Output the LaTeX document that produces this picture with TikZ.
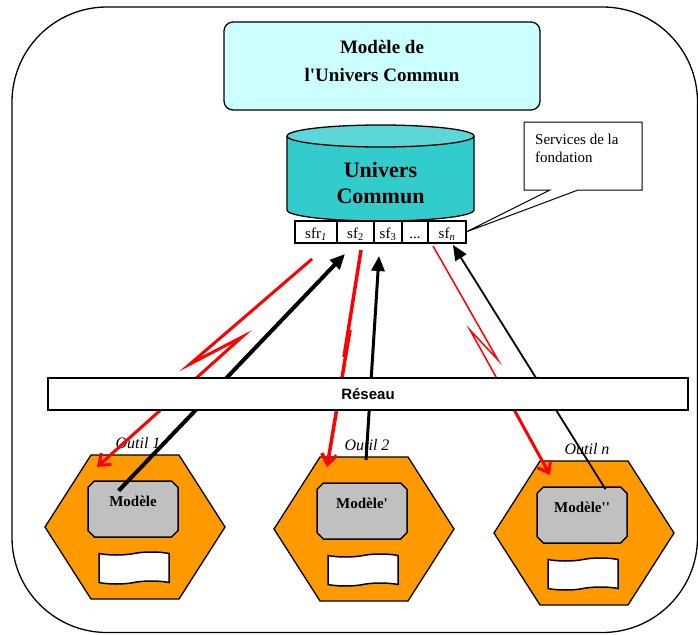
\documentclass[tikz,border=0pt]{standalone}
\usepackage{fontspec}
\setmainfont{Liberation Serif}[Ligatures=TeXOff]
\newfontfamily\reseaufont{Liberation Sans}
\usetikzlibrary{positioning,arrows.meta,calc,backgrounds,shapes.misc,shapes.symbols}
\definecolor{cyanpale}{RGB}{204,255,255}
\definecolor{tealhaut}{RGB}{92,214,214}
\definecolor{tealcorps}{RGB}{51,204,204}
\definecolor{orangeoutil}{RGB}{255,153,0}
\definecolor{grismodele}{RGB}{192,192,192}

\tikzset{
  cadre/.style={line width=1.3pt, rounded corners=95pt},
  boitemodele/.style={draw, fill=cyanpale, line width=1.3pt, rounded corners=9pt,
    minimum width=316pt, minimum height=88pt},
  texteuc/.style={align=center, font=\bfseries\fontsize{19}{28}\selectfont},
  cylindre/.style={draw, line width=1.3pt},
  univers/.style={align=center, font=\bfseries\fontsize{22}{25}\selectfont},
  sfcase/.style={draw, fill=white, line width=2.4pt, minimum height=22pt, inner sep=0pt,
    outer sep=0pt, text height=14pt, text depth=2pt, font=\fontsize{15}{15}\selectfont},
  bulle/.style={align=left, inner sep=0pt, font=\fontsize{15}{18}\selectfont},
  reseaubarre/.style={draw, fill=white, line width=1.5pt, minimum width=640pt,
    minimum height=32pt, font=\reseaufont\bfseries\fontsize{15}{15}\selectfont},
  hexoutil/.style={draw, fill=orangeoutil, line width=1.3pt},
  modele/.style={chamfered rectangle, chamfered rectangle xsep=4pt, draw,
    fill=grismodele, line width=1.5pt, minimum width=90pt, minimum height=56pt},
  modtexte/.style={font=\bfseries\fontsize{15}{15}\selectfont},
  docoutil/.style={tape, draw, fill=white, line width=1.5pt, minimum width=70pt,
    minimum height=32pt, tape bend height=3pt},
  nomoutil/.style={font=\itshape\fontsize{16}{16}\selectfont},
  rouge/.style={draw=red, line width=#1, -{Straight Barb[length=10pt,width=15pt]}},
  rougefin/.style={draw=red, line width=1.5pt},
  noir/.style={draw=black, line width=#1, -{Triangle[length=15pt,width=13pt]}},
}

\begin{document}
\begin{tikzpicture}[x=1pt,y=-1pt]
  \useasboundingbox (0,0) rectangle (698,634);
  \draw[cadre] (12,7) rectangle (697.5,632.5);

  \node[boitemodele] (modeleuc) at (382,66) {};
  \node[texteuc] at ([yshift=5pt]modeleuc.center) {Modèle de\\l'Univers Commun};

  \fill[tealcorps] (287,136) -- (287,210)
    arc[start angle=180, end angle=0, x radius=93.5, y radius=11] -- (474,136) -- cycle;
  \draw[cylindre] (287,136) -- (287,210)
    arc[start angle=180, end angle=0, x radius=93.5, y radius=11] -- (474,136);
  \draw[cylindre, fill=tealhaut] (380.5,136) ellipse[x radius=93.5, y radius=11];
  \node[univers] (univers) at (380.5,183) {Univers\\Commun};

  \node[sfcase, minimum width=42pt, anchor=west] (sfr1) at (295,232) {sfr\textsubscript{\itshape 1}};
  \node[sfcase, minimum width=37pt, right=0pt of sfr1] (sf2) {sf\textsubscript{2}};
  \node[sfcase, minimum width=28pt, right=0pt of sf2] (sf3) {sf\textsubscript{3}};
  \node[sfcase, minimum width=26pt, right=0pt of sf3] (sfd) {...};
  \node[sfcase, minimum width=38pt, right=0pt of sfd] (sfn) {sf\textsubscript{\itshape n}};

  \node[bulle, anchor=north west] (services) at (535,134) {Services de la\\fondation};
  \begin{scope}[on background layer]
    \draw[fill=white, line width=1pt] (524,122) -- (642,122) -- (642,190) -- (578,190)
      -- (sfn.east) -- (550,190) -- (524,190) -- cycle;
  \end{scope}

  \foreach \nom/\cx/\cy/\titre/\etiq in {A/135/527/Outil 1/Modèle,
      B/364/529/Outil 2/Modèle', C/584/533/Outil n/Modèle''}{
    \coordinate (outil\nom) at (\cx,\cy);
    \draw[hexoutil] ($(outil\nom)+(-90,0)$) -- ++(46,-72) -- ++(88,0) -- ++(46,72)
      -- ++(-46,72) -- ++(-88,0) -- cycle;
    \node[modele] (mod\nom) at ($(outil\nom)+(-2,-18)$) {};
    \node[modtexte] at ([yshift=-21pt]mod\nom.north) {\etiq};
    \node[docoutil] (doc\nom) at ($(outil\nom)+(-1,41)$) {};
    \node[nomoutil] at ($(outil\nom)+(3,-84)$) {\titre};
  }

  \draw[rouge=3pt] ($(sfr1.south east)+(-25,16)$) -- (190,364) -- (242,337)
    -- ($(outilA)+(-38,-60)$);
  \draw[noir=4pt] ($(modA.north west)+(28,7)$) -- ($(sf2.south west)+(8,11)$);

  \draw[rouge=3.5pt] ($(sf2.south)+(5.5,7)$) -- (344,357) -- (350,330)
    -- ($(outilB)+(-37,-62)$);
  \draw[noir=3pt] ($(outilB)+(2,-69)$) -- ($(sf3.south west)+(5,13)$);

  \draw[rougefin] ($(sfd.south east)+(5,3)$) -- (498,360) -- (470,330) -- (506,395);
  \draw[rouge=3pt] (506,395) -- ($(outilC)+(-34,-58)$);
  \draw[noir=1.8pt] ($(modC.north)+(23.5,3)$) -- ($(sfn.south)+(6,2)$);

  \node[reseaubarre] (reseau) at (368,394) {Réseau};
\end{tikzpicture}
\end{document}
